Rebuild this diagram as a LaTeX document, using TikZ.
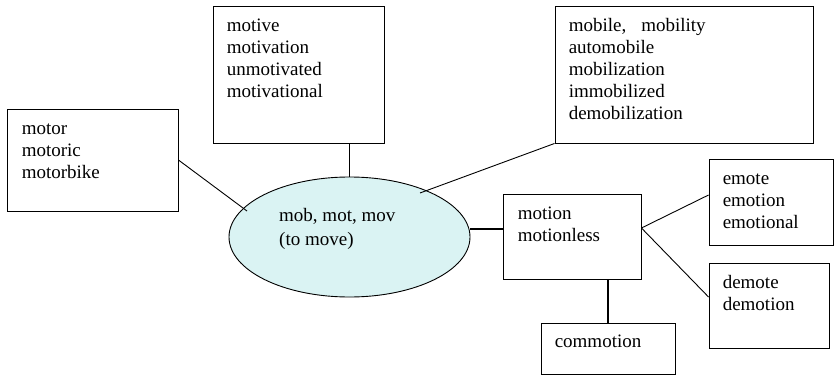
\documentclass[tikz,border=0pt]{standalone}
\usepackage{fontspec}
\setmainfont{Liberation Serif}
\usetikzlibrary{shapes.geometric,calc}
\definecolor{ellfill}{RGB}{218,243,243}
\tikzset{
  x=1pt, y=-1pt,
  box/.style={draw=black, line width=0.9pt, rectangle, inner sep=0pt, fill=white},
  txt/.style={anchor=north west, inner sep=0pt, align=left, font=\fontsize{19}{22}\selectfont},
  thinlink/.style={draw=black, line width=0.9pt},
  thicklink/.style={draw=black, line width=1.7pt},
}
\newcommand{\fst}{\rule{0pt}{15pt}}
\begin{document}
\begin{tikzpicture}
\useasboundingbox (0,0) rectangle (840,377);
% boxes
\node[box, minimum width=171pt, minimum height=102pt] (motor) at (92.5,160) {};
\node[box, minimum width=171pt, minimum height=137pt] (motive) at (298.5,74.5) {};
\node[box, minimum width=258pt, minimum height=137pt] (mobile) at (684,74.5) {};
\node[box, minimum width=138pt, minimum height=85pt] (motion) at (572,236.5) {};
\node[box, minimum width=124pt, minimum height=86pt] (emote) at (771,202) {};
\node[box, minimum width=120pt, minimum height=85pt] (demote) at (769,305.5) {};
\node[box, minimum width=134pt, minimum height=51pt] (commotion) at (608,348.5) {};
% central ellipse
\node[ellipse, draw=black, line width=0.9pt, fill=ellfill, inner sep=0pt,
      minimum width=241pt, minimum height=120pt] (ell) at (349.5,237) {};
% texts
\node[txt] (tmotor) at ($(motor.north west)+(15,10.5)$) {\fst motor\\motoric\\motorbike};
\node[txt] (tmotive) at ($(motive.north west)+(14,10.5)$) {\fst motive\\motivation\\unmotivated\\motivational};
\node[txt] (tmobile) at ($(mobile.north west)+(14,10.5)$) {\fst mobile,\hspace{15pt}mobility\\automobile\\mobilization\\immobilized\\demobilization};
\node[txt] (tmotion) at ($(motion.north west)+(15,10.5)$) {\fst motion\\motionless};
\node[txt] (temote) at ($(emote.north west)+(14,10.5)$) {\fst emote\\emotion\\emotional};
\node[txt] (tdemote) at ($(demote.north west)+(14,10.5)$) {\fst demote\\demotion};
\node[txt] (tcommotion) at ($(commotion.north west)+(14,10)$) {\fst commotion};
\node[txt, font=\fontsize{19}{23.3}\selectfont] (tell) at (279,206.7) {\fst mob, mot, mov\\(to move)};
% connector end points
\coordinate (emotor) at (247,211);
\coordinate (emobile) at (420,193);
\coordinate (eright) at ($(ell.east)+(0,-8)$);
\coordinate (mright) at ($(motion.east)+(0,-8.5)$);
\coordinate (emoteL) at ($(emote.west)+(0,-7)$);
\coordinate (demoteL) at ($(demote.west)+(0,-8.5)$);
% connectors
\draw[thinlink] (motor.east) -- (emotor);
\draw[thinlink] (mobile.south west) -- (emobile);
\draw[thicklink] (ell.north) -- (ell.north |- motive.south);
\draw[thicklink] (eright) -- (eright -| motion.west);
\draw[thinlink] (mright) -- (emoteL);
\draw[thinlink] (mright) -- (demoteL);
\draw[thicklink] (commotion.north) -- (commotion.north |- motion.south);
\end{tikzpicture}
\end{document}
